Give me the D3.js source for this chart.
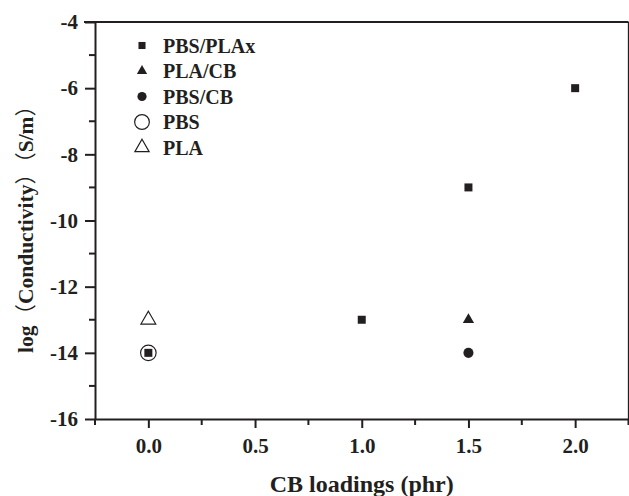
<!DOCTYPE html>
<html>
<head>
<meta charset="utf-8">
<script src="https://cdn.jsdelivr.net/npm/d3@7"></script>
<style>
  html, body { margin: 0; padding: 0; background: #fff; }
  svg { display: block; }
  text { font-family: "Liberation Serif", "Times New Roman", serif; font-weight: bold; fill: #231f20; }
</style>
</head>
<body>
<svg id="chart" width="629" height="496"></svg>
<script>
// CB loading (phr) and log conductivity (S/m) for each sample set
const seriesNames = ["PBS/PLAx", "PLA/CB", "PBS/CB", "PBS", "PLA"];
const pbsPlaxLoading = [0.0, 1.0, 1.5, 2.0];
const pbsPlaxLogCond = [-14, -13, -9, -6];
const plaCbLoading = [1.5];
const plaCbLogCond = [-13];
const pbsCbLoading = [1.5];
const pbsCbLogCond = [-14];
const pbsLoading = [0.0];
const pbsLogCond = [-14];
const plaLoading = [0.0];
const plaLogCond = [-13];

const xTickValues = [0.0, 0.5, 1.0, 1.5, 2.0];
const yTickValues = [-16, -14, -12, -10, -8, -6, -4];

const ink = "#231f20";
const svg = d3.select("#chart");

const plotLeft = 95, plotRight = 628.5, plotTop = 22, plotBottom = 419;
const x = d3.scaleLinear().domain([-0.25, 2.25]).range([plotLeft, plotRight]);
const y = d3.scaleLinear().domain([-16, -4]).range([plotBottom, plotTop]);

// Frame: top and right borders
svg.append("line").attr("x1", plotLeft - 11).attr("x2", plotRight).attr("y1", plotTop).attr("y2", plotTop)
  .attr("stroke", ink).attr("stroke-width", 2);
svg.append("line").attr("x1", plotRight).attr("x2", plotRight).attr("y1", plotTop).attr("y2", plotBottom)
  .attr("stroke", ink).attr("stroke-width", 1.3);

// Bottom axis: major ticks labelled, minor ticks in between
const xMinor = d3.range(-0.25, 2.26, 0.5);
const xAxisG = svg.append("g").attr("transform", `translate(0,${plotBottom})`);
xAxisG.call(d3.axisBottom(x).tickValues(xTickValues).tickFormat(d3.format(".1f"))
  .tickSizeInner(9).tickSizeOuter(0).tickPadding(10));
xAxisG.selectAll(".minor").data(xMinor).join("line").attr("class", "minor")
  .attr("x1", d => x(d)).attr("x2", d => x(d)).attr("y1", 0).attr("y2", 6)
  .attr("stroke", ink).attr("stroke-width", 2);
xAxisG.select(".domain").attr("stroke", ink).attr("stroke-width", 2);
xAxisG.selectAll(".tick line").attr("stroke", ink).attr("stroke-width", 2);
xAxisG.selectAll(".tick text").attr("font-size", 21).attr("fill", ink)
  .attr("font-family", "Liberation Serif, Times New Roman, serif").attr("font-weight", "bold");

// Left axis
const yMinor = d3.range(-15, -4, 2);
const yAxisG = svg.append("g").attr("transform", `translate(${plotLeft},0)`);
yAxisG.call(d3.axisLeft(y).tickValues(yTickValues).tickFormat(d3.format("d"))
  .tickSizeInner(10).tickSizeOuter(0).tickPadding(7));
yAxisG.selectAll(".minor").data(yMinor).join("line").attr("class", "minor")
  .attr("x1", 0).attr("x2", -6).attr("y1", d => y(d)).attr("y2", d => y(d))
  .attr("stroke", ink).attr("stroke-width", 2);
yAxisG.select(".domain").attr("stroke", ink).attr("stroke-width", 2);
yAxisG.selectAll(".tick line").attr("stroke", ink).attr("stroke-width", 2);
yAxisG.selectAll(".tick text").attr("font-size", 21).attr("fill", ink)
  .attr("font-family", "Liberation Serif, Times New Roman, serif").attr("font-weight", "bold")
  .text(d => String(d).replace("\u2212", "-"));

// Axis titles
svg.append("text").attr("x", (plotLeft + plotRight) / 2).attr("y", 492)
  .attr("text-anchor", "middle").attr("font-size", 24).text("CB loadings (phr)");

// Y title: bold words with thin full-width brackets
const yTitle = svg.append("text")
  .attr("transform", `translate(33,224) rotate(-90)`)
  .attr("text-anchor", "middle").attr("font-size", 21.5);
const yParts = [
  { t: "log", thin: false },
  { t: "\uFF08", thin: true },
  { t: "Conductivity", thin: false },
  { t: "\uFF09", thin: true },
  { t: "\uFF08", thin: true },
  { t: "S/m", thin: false },
  { t: "\uFF09", thin: true }
];
yParts.forEach(p => {
  yTitle.append("tspan")
    .attr("font-family", p.thin ? "Noto Sans CJK SC, sans-serif" : null)
    .attr("font-weight", p.thin ? "normal" : "bold").text(p.t);
});

// Marker styles per series
const styles = [
  { type: d3.symbolSquare, size: 64, fill: ink, stroke: "none", lsize: 50 },
  { type: d3.symbolTriangle, size: 55, fill: ink, stroke: "none", lsize: 46 },
  { type: d3.symbolCircle, size: 80, fill: ink, stroke: "none", lsize: 66 },
  { type: d3.symbolCircle, size: 190, fill: "none", stroke: ink, lsize: 170 },
  { type: d3.symbolTriangle, size: 95, fill: "none", stroke: ink, lsize: 88 }
];

const series = [
  { xs: pbsPlaxLoading, ys: pbsPlaxLogCond },
  { xs: plaCbLoading, ys: plaCbLogCond },
  { xs: pbsCbLoading, ys: pbsCbLogCond },
  { xs: pbsLoading, ys: pbsLogCond },
  { xs: plaLoading, ys: plaLogCond }
];

// Draw open markers first so filled ones sit on top
const drawOrder = [3, 4, 0, 1, 2];
drawOrder.forEach(i => {
  const s = styles[i];
  const pts = series[i].xs.map((v, k) => [v, series[i].ys[k]]);
  svg.append("g").selectAll("path").data(pts).join("path")
    .attr("transform", d => `translate(${x(d[0])},${y(d[1])})`)
    .attr("d", d3.symbol().type(s.type).size(s.size)())
    .attr("fill", s.fill).attr("stroke", s.stroke).attr("stroke-width", 1.2);
});

// Legend
const legend = svg.append("g");
seriesNames.forEach((name, i) => {
  const s = styles[i];
  const ly = 45.5 + i * 25.5;
  legend.append("path").attr("transform", `translate(142,${ly})`)
    .attr("d", d3.symbol().type(s.type).size(s.lsize)())
    .attr("fill", s.fill).attr("stroke", s.stroke).attr("stroke-width", 1.2);
  legend.append("text").attr("x", 163).attr("y", ly + 7).attr("font-size", 20).text(name);
});
</script>
</body>
</html>
